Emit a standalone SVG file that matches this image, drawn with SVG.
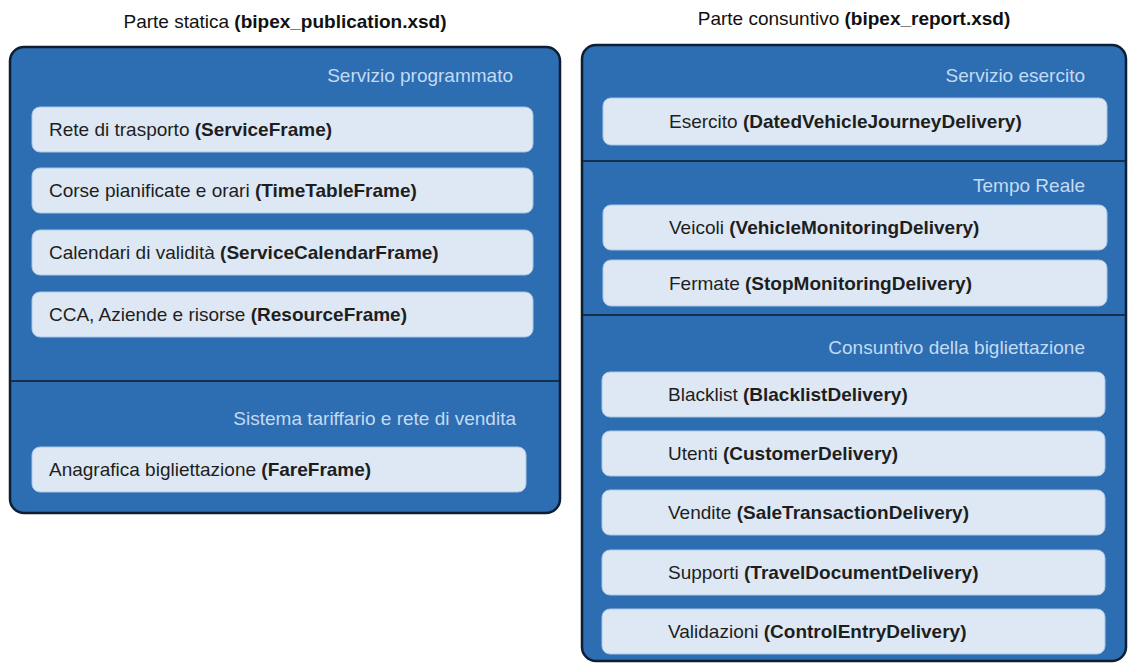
<svg xmlns="http://www.w3.org/2000/svg" width="1130" height="664" viewBox="0 0 1130 664">
<style>
text{font-family:"Liberation Sans",Arial,sans-serif;font-size:19px}
.title{fill:#111;text-anchor:middle}
.hdr{fill:#c3dbf2;text-anchor:end}
.lbl{fill:#1e1e1e}
b,.b{font-weight:bold}
.panel{fill:#2d6db2;stroke:#0e1f33;stroke-width:2.5}
.box{fill:#dde8f4;stroke:#a9c6e6;stroke-width:1}
.div{stroke:#15304f;stroke-width:2}
</style>
<rect width="1130" height="664" fill="#ffffff"/>
<text class="title" x="285" y="28">Parte statica <tspan class="b">(bipex_publication.xsd)</tspan></text>
<text class="title" x="854" y="25">Parte consuntivo <tspan class="b">(bipex_report.xsd)</tspan></text>

<g id="panel-statica">
<rect class="panel" x="10" y="47" width="550" height="466" rx="14"/>
<line class="div" x1="11" y1="381" x2="559" y2="381"/>
<text class="hdr" x="513" y="82">Servizio programmato</text>
<text class="hdr" x="516" y="425">Sistema tariffario e rete di vendita</text>
</g>
<g id="n-serviceframe">
<rect class="box" x="32" y="107" width="501" height="45" rx="8"/>
<text class="lbl" x="49" y="136">Rete di trasporto <tspan class="b">(ServiceFrame)</tspan></text>
</g>
<g id="n-timetableframe">
<rect class="box" x="32" y="168" width="501" height="45" rx="8"/>
<text class="lbl" x="49" y="197">Corse pianificate e orari <tspan class="b">(TimeTableFrame)</tspan></text>
</g>
<g id="n-servicecalendarframe">
<rect class="box" x="32" y="230" width="501" height="45" rx="8"/>
<text class="lbl" x="49" y="259">Calendari di validità <tspan class="b">(ServiceCalendarFrame)</tspan></text>
</g>
<g id="n-resourceframe">
<rect class="box" x="32" y="292" width="501" height="45" rx="8"/>
<text class="lbl" x="49" y="321">CCA, Aziende e risorse <tspan class="b">(ResourceFrame)</tspan></text>
</g>
<g id="n-fareframe">
<rect class="box" x="32" y="447" width="494" height="45" rx="8"/>
<text class="lbl" x="49" y="476">Anagrafica bigliettazione <tspan class="b">(FareFrame)</tspan></text>
</g>

<g id="panel-consuntivo">
<rect class="panel" x="582" y="45" width="544" height="616" rx="14"/>
<line class="div" x1="583" y1="161" x2="1125" y2="161"/>
<line class="div" x1="583" y1="315" x2="1125" y2="315"/>
<text class="hdr" x="1085" y="82">Servizio esercito</text>
<text class="hdr" x="1085" y="192">Tempo Reale</text>
<text class="hdr" x="1085" y="354">Consuntivo della bigliettazione</text>
</g>
<g id="n-datedvehiclejourney">
<rect class="box" x="603" y="98" width="504" height="47" rx="8"/>
<text class="lbl" x="669" y="128">Esercito <tspan class="b">(DatedVehicleJourneyDelivery)</tspan></text>
</g>
<g id="n-vehiclemonitoring">
<rect class="box" x="603" y="205" width="504" height="45" rx="8"/>
<text class="lbl" x="669" y="234">Veicoli <tspan class="b">(VehicleMonitoringDelivery)</tspan></text>
</g>
<g id="n-stopmonitoring">
<rect class="box" x="603" y="260" width="504" height="46" rx="8"/>
<text class="lbl" x="669" y="290">Fermate <tspan class="b">(StopMonitoringDelivery)</tspan></text>
</g>
<g id="n-blacklist">
<rect class="box" x="602" y="372" width="503" height="45" rx="8"/>
<text class="lbl" x="668" y="401">Blacklist <tspan class="b">(BlacklistDelivery)</tspan></text>
</g>
<g id="n-customer">
<rect class="box" x="602" y="431" width="503" height="45" rx="8"/>
<text class="lbl" x="668" y="460">Utenti <tspan class="b">(CustomerDelivery)</tspan></text>
</g>
<g id="n-saletransaction">
<rect class="box" x="602" y="490" width="503" height="45" rx="8"/>
<text class="lbl" x="668" y="519">Vendite <tspan class="b">(SaleTransactionDelivery)</tspan></text>
</g>
<g id="n-traveldocument">
<rect class="box" x="602" y="550" width="503" height="45" rx="8"/>
<text class="lbl" x="668" y="579">Supporti <tspan class="b">(TravelDocumentDelivery)</tspan></text>
</g>
<g id="n-controlentry">
<rect class="box" x="602" y="609" width="503" height="45" rx="8"/>
<text class="lbl" x="668" y="638">Validazioni <tspan class="b">(ControlEntryDelivery)</tspan></text>
</g>
<g id="connectors"/>
</svg>
